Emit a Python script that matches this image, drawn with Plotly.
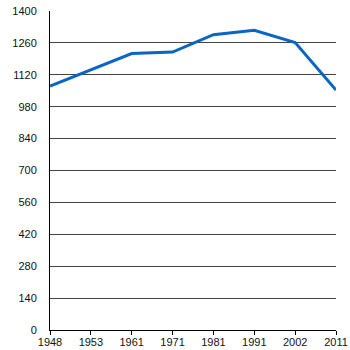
import plotly.graph_objects as go

years = ["1948", "1953", "1961", "1971", "1981", "1991", "2002", "2011"]
population = [1070, 1143, 1213, 1220, 1296, 1315, 1262, 1053]
y_ticks = [0, 140, 280, 420, 560, 700, 840, 980, 1120, 1260, 1400]

fig = go.Figure()
fig.add_trace(go.Scatter(
    x=years, y=population, mode="lines",
    line=dict(color="#0a66c2", width=3),
    hoverinfo="skip",
))

fig.update_layout(
    width=350, height=350,
    margin=dict(l=50, r=14, t=11, b=20, autoexpand=False),
    paper_bgcolor="white", plot_bgcolor="white",
    showlegend=False,
    font=dict(family="Liberation Sans, Arial, sans-serif", size=11, color="#111"),
    xaxis=dict(
        type="category", range=[0, 7], automargin=False,
        showgrid=False, zeroline=False,
        showline=True, linecolor="black", linewidth=1,
        ticks="outside", ticklen=4, tickcolor="black",
        ticklabelstandoff=-2,
    ),
    yaxis=dict(
        range=[0, 1400], tickvals=y_ticks, automargin=False,
        showgrid=True, gridcolor="#444", gridwidth=1,
        zeroline=False,
        showline=True, linecolor="black", linewidth=1,
        ticks="", ticklabelstandoff=10,
    ),
)

fig.write_html("out.html")
